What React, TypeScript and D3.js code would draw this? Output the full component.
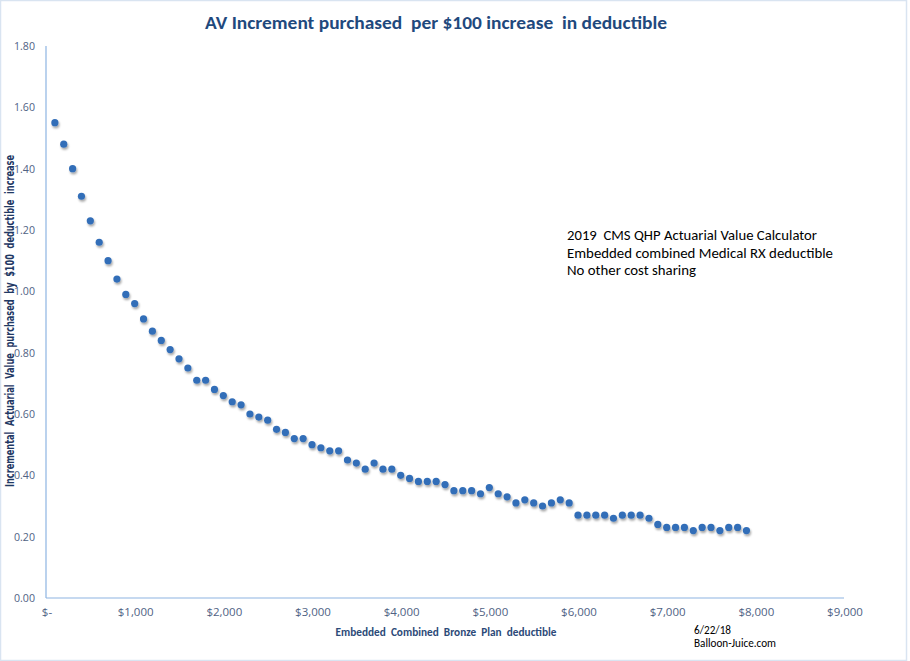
import React from "react";
import * as d3 from "d3";

const deductibles: number[] = [
  100, 200, 300, 400, 500, 600, 700, 800, 900, 1000,
  1100, 1200, 1300, 1400, 1500, 1600, 1700, 1800, 1900, 2000,
  2100, 2200, 2300, 2400, 2500, 2600, 2700, 2800, 2900, 3000,
  3100, 3200, 3300, 3400, 3500, 3600, 3700, 3800, 3900, 4000,
  4100, 4200, 4300, 4400, 4500, 4600, 4700, 4800, 4900, 5000,
  5100, 5200, 5300, 5400, 5500, 5600, 5700, 5800, 5900, 6000,
  6100, 6200, 6300, 6400, 6500, 6600, 6700, 6800, 6900, 7000,
  7100, 7200, 7300, 7400, 7500, 7600, 7700, 7800, 7900,
];

const avIncrement: number[] = [
  1.55, 1.48, 1.40, 1.31, 1.23, 1.16, 1.10, 1.04, 0.99, 0.96,
  0.91, 0.87, 0.84, 0.81, 0.78, 0.75, 0.71, 0.71, 0.68, 0.66,
  0.64, 0.63, 0.60, 0.59, 0.58, 0.55, 0.54, 0.52, 0.52, 0.50,
  0.49, 0.48, 0.48, 0.45, 0.44, 0.42, 0.44, 0.42, 0.42, 0.40,
  0.39, 0.38, 0.38, 0.38, 0.37, 0.35, 0.35, 0.35, 0.34, 0.36,
  0.34, 0.33, 0.31, 0.32, 0.31, 0.30, 0.31, 0.32, 0.31, 0.27,
  0.27, 0.27, 0.27, 0.26, 0.27, 0.27, 0.27, 0.26, 0.24, 0.23,
  0.23, 0.23, 0.22, 0.23, 0.23, 0.22, 0.23, 0.23, 0.22,
];

const xTicks: number[] = [0, 1000, 2000, 3000, 4000, 5000, 6000, 7000, 8000, 9000];
const yTicks: number[] = [0, 0.2, 0.4, 0.6, 0.8, 1.0, 1.2, 1.4, 1.6, 1.8];

const titleText = "AV Increment purchased  per $100 increase  in deductible";
const xTitle = "Embedded  Combined  Bronze  Plan  deductible";
const yTitle = "Incremental  Actuarial  Value  purchased  by  $100  deductible  increase";
const noteLines: string[] = [
  "2019  CMS QHP Actuarial Value Calculator",
  "Embedded combined Medical RX deductible",
  "No other cost sharing",
];
const creditLines: string[] = ["6/22/18", "Balloon-Juice.com"];

const W = 910;
const H = 661;
const plot = { left: 46, right: 844, top: 46, bottom: 598 };

export default function App() {
  const x = d3.scaleLinear().domain([0, 9000]).range([plot.left, plot.right]);
  const y = d3.scaleLinear().domain([0, 1.8]).range([plot.bottom, plot.top]);
  const fmtX = (v: number) => (v === 0 ? "$-" : "$" + d3.format(",")(v));
  const fmtY = d3.format(".2f");
  const font = "Carlito, Calibri, 'Open Sans', sans-serif";
  const pts = deductibles.map((d, i) => ({ d, v: avIncrement[i] }));
  const pre = { whiteSpace: "pre" as const };

  return (
    <svg
      width={W}
      height={H}
      style={{ position: "absolute", left: 0, top: 0, background: "#fff" }}
      fontFamily={font}
    >
      <defs>
        <filter id="shadow" x="-50%" y="-50%" width="200%" height="200%">
          <feDropShadow dx="1" dy="2" stdDeviation="1.1" floodColor="#000" floodOpacity="0.35" />
        </filter>
      </defs>
      <rect x={0.5} y={0.5} width={906} height={660} fill="#fff" stroke="#D9E4F1" strokeWidth={1.5} />

      <text
        x={436}
        y={29}
        textAnchor="middle"
        fontSize={19}
        fontWeight="bold"
        fill="#1F497D"
        textLength={462}
        lengthAdjust="spacingAndGlyphs"
        style={pre}
      >
        {titleText}
      </text>

      {/* axes */}
      <line x1={plot.left} x2={plot.left} y1={plot.top} y2={plot.bottom} stroke="#8DB4E2" strokeWidth={1.2} />
      <line x1={plot.left} x2={plot.right} y1={plot.bottom} y2={plot.bottom} stroke="#8DB4E2" strokeWidth={1.2} />

      {yTicks.map((t) => (
        <text
          key={"y" + t}
          x={35}
          y={y(t) + 4}
          textAnchor="end"
          fontSize={11.5}
          fill="#4F6284"
          fontFamily="'Open Sans', sans-serif"
          textLength={21}
          lengthAdjust="spacingAndGlyphs"
        >
          {fmtY(t)}
        </text>
      ))}

      {xTicks.map((t) => (
        <text
          key={"x" + t}
          x={x(t) + 1}
          y={616}
          textAnchor="middle"
          fontSize={11.5}
          fill="#4F6284"
          fontFamily="'Open Sans', sans-serif"
        >
          {fmtX(t)}
        </text>
      ))}

      <text
        x={446}
        y={636}
        textAnchor="middle"
        fontSize={12}
        fontWeight="bold"
        fill="#2C4A78"
        textLength={221}
        lengthAdjust="spacingAndGlyphs"
        style={pre}
      >
        {xTitle}
      </text>

      <text
        transform={`translate(14,${321}) rotate(-90)`}
        textAnchor="middle"
        fontSize={11.5}
        fontWeight="bold"
        fill="#1F3864"
        fontFamily="'DejaVu Sans Condensed', 'Liberation Sans Narrow', sans-serif"
        textLength={332}
        lengthAdjust="spacingAndGlyphs"
        style={pre}
      >
        {yTitle}
      </text>

      {noteLines.map((s, i) => (
        <text
          key={"n" + i}
          x={567}
          y={240 + i * 17.5}
          fontSize={14.5}
          fill="#000"
          textLength={i === 0 ? 250 : i === 1 ? 266 : 129}
          lengthAdjust="spacingAndGlyphs"
          style={pre}
        >
          {s}
        </text>
      ))}

      {creditLines.map((s, i) => (
        <text
          key={"c" + i}
          x={694}
          y={634 + i * 13}
          fontSize={11.5}
          fill="#000"
          textLength={i === 0 ? 37 : 82}
          lengthAdjust="spacingAndGlyphs"
        >
          {s}
        </text>
      ))}

      <g filter="url(#shadow)">
        {pts.map((p) => (
          <circle key={p.d} cx={x(p.d)} cy={y(p.v)} r={3.6} fill="#336EB8" />
        ))}
      </g>
    </svg>
  );
}
